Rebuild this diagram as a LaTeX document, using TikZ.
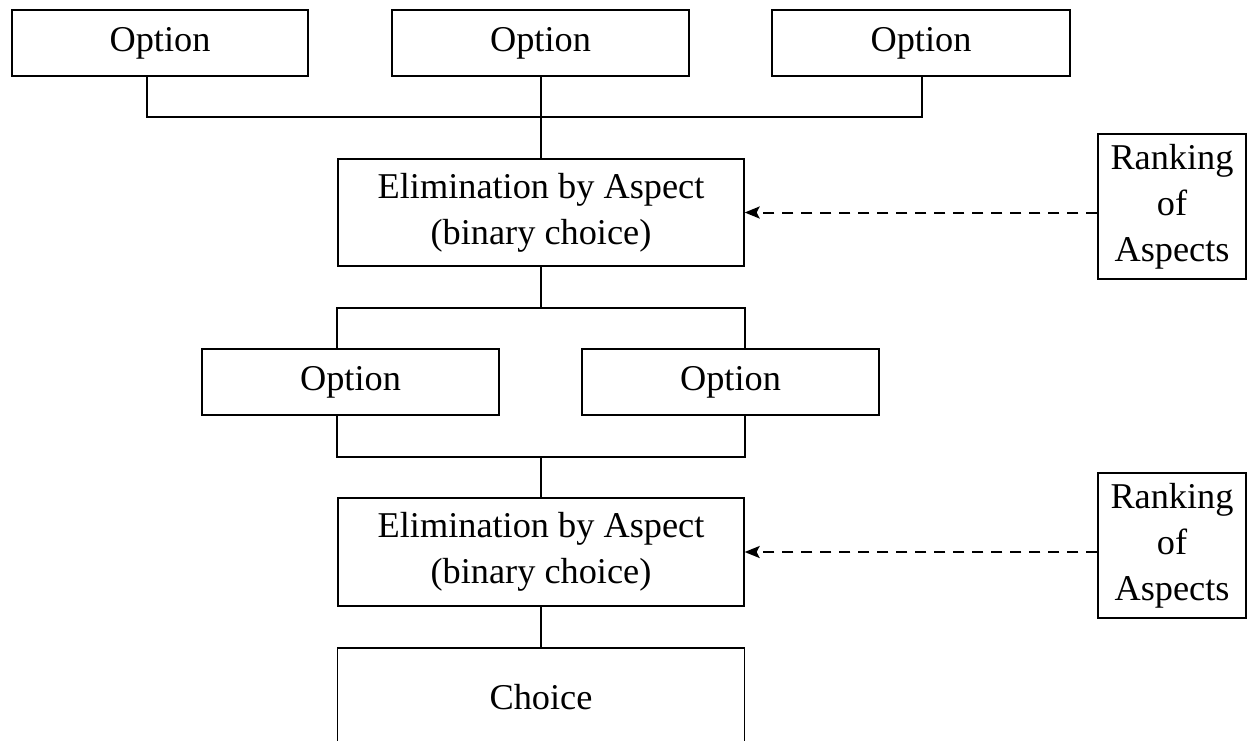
\documentclass[tikz,border=0pt]{standalone}
\usepackage{fontspec}
\setmainfont{Liberation Serif}
\usetikzlibrary{arrows.meta}
\tikzset{
  box/.style={shape=rectangle,draw,line width=1.3pt,inner sep=0pt,align=center,
    font=\fontsize{36.3}{46}\selectfont},
  link/.style={line width=1.3pt},
  hint/.style={line width=2pt,dash pattern=on 11pt off 8pt,
    -{Stealth[length=15pt,width=12pt,inset=3pt]}}
}
\begin{document}
\begin{tikzpicture}[x=1pt,y=-1pt]
\useasboundingbox (0,0) rectangle (1249,740);
\clip (0,0) rectangle (1249,740);
\node(opt1) at (160,43)[box,minimum width=296pt,minimum height=66pt]  {Option};
\node(opt2) at (540.5,43)[box,minimum width=297pt,minimum height=66pt]{Option};
\node(opt3) at (921,43)[box,minimum width=298pt,minimum height=66pt]  {Option};
\node(elim1) at (541,212.5)[box,minimum width=406pt,minimum height=107pt]
  {Elimination by Aspect\\(binary choice)};
\node(rank1) at (1172,206.5)[box,minimum width=148pt,minimum height=145pt]
  {Ranking\\of\\Aspects};
\node(optL) at (350.5,382)[box,minimum width=297pt,minimum height=66pt]{Option};
\node(optR) at (730.5,382)[box,minimum width=297pt,minimum height=66pt]{Option};
\node(elim2) at (541,552)[box,minimum width=406pt,minimum height=108pt]
  {Elimination by Aspect\\(binary choice)};
\node(rank2) at (1172,545.5)[box,minimum width=148pt,minimum height=145pt]
  {Ranking\\of\\Aspects};
\node(choice) at (541,697)[box,minimum width=407pt,minimum height=98pt]{Choice};
% bars joining the boxes
\coordinate(barL) at (147,117);
\coordinate(barR) at (922,117);
\coordinate(splitL) at (337,308);
\coordinate(splitR) at (745,308);
\coordinate(joinL) at (337,457);
\coordinate(joinR) at (745,457);
\draw[link] (opt1.south -| barL) -- (barL) -- (barR) -- (opt3.south -| barR);
\draw[link] (opt2.south -| elim1.north) -- (elim1.north);
\draw[link] (elim1.south) -- (elim1.south |- splitL);
\draw[link] (optL.north -| splitL) -- (splitL) -- (splitR) -- (optR.north -| splitR);
\draw[link] (optL.south -| joinL) -- (joinL) -- (joinR) -- (optR.south -| joinR);
\draw[link] (elim2.north |- joinL) -- (elim2.north);
\path [link]
  (elim2.south) edge (choice.north);
% rankings feed the eliminations
\draw[hint] (rank1.west |- elim1.east) -- (elim1.east);
\draw[hint] (rank2.west |- elim2.east) -- (elim2.east);
\end{tikzpicture}
\end{document}
